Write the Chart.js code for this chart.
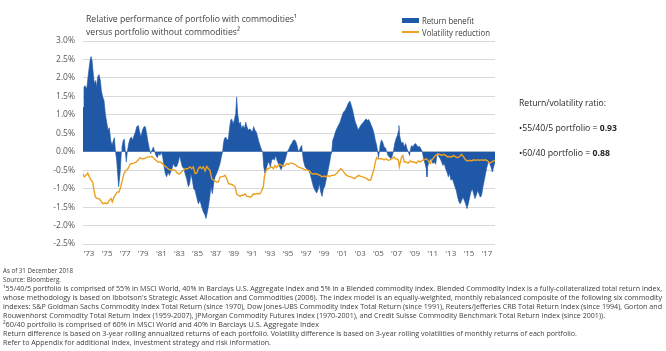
<!DOCTYPE html>
<html>
<head>
<meta charset="utf-8">
<script src="https://cdn.jsdelivr.net/npm/chart.js@4.4.1/dist/chart.umd.min.js"></script>
<style>
body { margin: 0; background: #fff; }
#wrap { position: relative; width: 666px; height: 351px; overflow: hidden; font-family: "Open Sans", sans-serif; color: #404040; }
#chart { position: absolute; left: 0; top: 0; }
.t { position: absolute; white-space: nowrap; line-height: 1; transform-origin: 0 50%; }
.fn { font-size: 7px; left: 3px; }
.panel { font-size: 9.5px; left: 519px; color: #262626; }
.sw { position: absolute; }
</style>
</head>
<body>
<div id="wrap">
  <canvas id="chart" width="666" height="351"></canvas>

  <div class="t" style="left:86px;top:14px;font-size:9.5px" data-w="211">Relative performance of portfolio with commodities¹</div>
  <div class="t" style="left:86px;top:27px;font-size:9.5px" data-w="154">versus portfolio without  commodities²</div>

  <div class="sw" style="left:402px;top:18px;width:17px;height:5px;background:#1f58a6"></div>
  <div class="t" style="left:422px;top:16px;font-size:9px" data-w="52">Return benefit</div>
  <div class="sw" style="left:402px;top:31px;width:17px;height:1.5px;background:#eba120"></div>
  <div class="t" style="left:422px;top:27.5px;font-size:9px" data-w="68">Volatility reduction</div>

  <div class="t panel" style="top:98px" data-w="87">Return/volatility ratio:</div>
  <div class="t panel" style="top:123px" data-w="98">•55/40/5 portfolio = <b>0.93</b></div>
  <div class="t panel" style="top:148px" data-w="91">•60/40 portfolio = <b>0.88</b></div>

  <div class="t fn" style="top:266.5px" data-w="70">As of 31 December 2018</div>
  <div class="t fn" style="top:275.5px" data-w="58">Source: Bloomberg.</div>
  <div class="t fn" style="top:285px" data-w="659">¹55/40/5 portfolio is comprised of 55% in MSCI World, 40% in Barclays U.S. Aggregate Index and 5% in a Blended commodity index. Blended Commodity Index is a fully-collateralized total return index,</div>
  <div class="t fn" style="top:294px" data-w="659">whose methodology is based on Ibbotson's Strategic Asset Allocation and Commodities (2006). The index model is an equally-weighted, monthly rebalanced composite of the following six commodity</div>
  <div class="t fn" style="top:303px" data-w="659">indexes: S&amp;P Goldman Sachs Commodity Index Total Return (since 1970), Dow Jones-UBS Commodity Index Total Return (since 1991), Reuters/Jefferies CRB Total Return Index (since 1994), Gorton and</div>
  <div class="t fn" style="top:312px" data-w="602">Rouwenhorst Commodity Total Return Index (1959-2007), JPMorgan Commodity Futures Index (1970-2001), and Credit Suisse Commodity Benchmark Total Return Index (since 2001)).</div>
  <div class="t fn" style="top:321px" data-w="316">²60/40 portfolio is comprised of 60% in MSCI World and 40% in Barclays U.S. Aggregate Index</div>
  <div class="t fn" style="top:330px" data-w="574">Return difference is based on 3-year rolling annualized returns of each portfolio. Volatility difference is based on 3-year rolling volatilities of monthly returns of each portfolio.</div>
  <div class="t fn" style="top:339px" data-w="268">Refer to Appendix for additional index, investment strategy and risk information.</div>
</div>

<script>
// return benefit (%) - portfolio with commodities minus without
var retYears = [
  1972.34,1972.45,1972.56,1972.75,1972.93,1973.12,1973.23,1973.34,1973.48,1973.59,
  1973.74,1973.85,1973.96,1974.11,1974.26,1974.37,1974.52,1974.66,1974.81,1974.96,
  1975.11,1975.25,1975.40,1975.55,1975.70,1975.81,1975.92,1976.06,1976.17,1976.28,
  1976.36,1976.47,1976.58,1976.65,1976.80,1976.91,1977.02,1977.13,1977.24,1977.39,
  1977.54,1977.69,1977.83,1977.98,1978.13,1978.28,1978.46,1978.61,1978.75,1978.90,
  1979.09,1979.23,1979.38,1979.53,1979.68,1979.82,1979.97,1980.12,1980.27,1980.41,
  1980.56,1980.71,1980.85,1981.00,1981.15,1981.30,1981.44,1981.59,1981.74,1981.89,
  1982.03,1982.18,1982.33,1982.51,1982.70,1982.88,1983.03,1983.18,1983.32,1983.51,
  1983.62,1983.80,1983.99,1984.14,1984.28,1984.43,1984.58,1984.73,1984.91,1985.09,
  1985.28,1985.46,1985.65,1985.83,1985.94,1986.05,1986.20,1986.35,1986.49,1986.64,
  1986.79,1986.94,1987.12,1987.31,1987.49,1987.67,1987.78,1987.86,1987.97,1988.12,
  1988.26,1988.41,1988.56,1988.67,1988.78,1988.93,1989.07,1989.22,1989.33,1989.44,
  1989.59,1989.74,1989.88,1990.03,1990.18,1990.33,1990.47,1990.62,1990.77,1990.92,
  1991.06,1991.21,1991.36,1991.51,1991.65,1991.80,1991.95,1992.10,1992.21,1992.32,
  1992.46,1992.61,1992.76,1992.91,1993.05,1993.20,1993.35,1993.50,1993.64,1993.79,
  1993.94,1994.09,1994.23,1994.38,1994.53,1994.68,1994.82,1994.93,1995.12,1995.27,
  1995.41,1995.60,1995.75,1995.89,1996.04,1996.15,1996.26,1996.41,1996.52,1996.59,
  1996.70,1996.89,1997.07,1997.26,1997.44,1997.63,1997.81,1997.99,1998.18,1998.36,
  1998.47,1998.62,1998.77,1998.92,1999.06,1999.21,1999.36,1999.51,1999.65,1999.76,
  1999.84,1999.95,2000.09,2000.24,2000.39,2000.57,2000.76,2000.94,2001.13,2001.31,
  2001.50,2001.68,2001.86,2002.01,2002.16,2002.31,2002.45,2002.60,2002.75,2002.90,
  2003.04,2003.19,2003.34,2003.49,2003.63,2003.78,2003.93,2004.07,2004.22,2004.37,
  2004.52,2004.66,2004.81,2004.92,2005.00,2005.11,2005.18,2005.33,2005.48,2005.62,
  2005.77,2005.92,2006.06,2006.21,2006.36,2006.51,2006.65,2006.80,2006.95,2007.10,
  2007.24,2007.27,2007.35,2007.46,2007.57,2007.71,2007.86,2008.01,2008.16,2008.30,
  2008.45,2008.56,2008.67,2008.82,2008.97,2009.11,2009.26,2009.41,2009.56,2009.70,
  2009.85,2010.00,2010.15,2010.29,2010.37,2010.44,2010.59,2010.74,2010.88,2011.03,
  2011.18,2011.33,2011.47,2011.55,2011.69,2011.84,2011.99,2012.14,2012.28,2012.43,
  2012.58,2012.73,2012.87,2013.02,2013.17,2013.32,2013.46,2013.61,2013.76,2013.91,
  2014.05,2014.20,2014.35,2014.50,2014.64,2014.79,2014.94,2015.09,2015.23,2015.38,
  2015.53,2015.67,2015.82,2015.97,2016.12,2016.26,2016.41,2016.56,2016.71,2016.85,
  2017.00,2017.15,2017.30,2017.44,2017.59,2017.74,2017.89
];
var retValues = [
  1.20,1.75,1.79,1.70,2.10,2.47,2.58,2.47,2.10,1.84,
  1.93,1.75,2.02,2.09,1.93,1.66,1.48,1.39,1.03,0.80,
  0.58,0.65,0.31,0.17,0.31,0.38,0.04,-0.23,-0.59,-0.95,
  -0.77,-0.50,0.00,0.13,0.31,0.34,0.00,-0.28,0.00,0.22,
  0.35,0.40,0.31,0.44,0.53,0.68,0.71,0.53,0.40,0.58,
  0.68,0.68,0.49,0.26,0.08,-0.05,0.04,0.13,0.00,-0.10,
  -0.16,-0.05,-0.10,0.00,-0.14,-0.41,-0.59,-0.68,-0.55,-0.64,
  -0.55,-0.46,-0.32,-0.41,-0.40,-0.28,-0.10,-0.28,-0.41,-0.46,
  -0.59,-0.73,-0.95,-0.86,-0.59,-0.77,-1.00,-1.05,-1.23,-1.41,
  -1.32,-1.50,-1.63,-1.72,-1.81,-1.68,-1.50,-1.23,-0.95,-1.14,
  -0.86,-0.68,-0.59,-0.46,-0.32,-0.10,0.00,0.22,0.35,0.40,
  0.31,0.35,0.67,0.85,0.89,0.76,0.85,1.03,1.48,1.03,
  0.76,0.80,0.62,0.71,0.62,0.80,0.67,0.58,0.62,0.58,
  0.53,0.68,0.58,0.53,0.40,0.26,0.14,0.04,0.00,-0.41,
  -0.59,-0.46,-0.32,-0.28,-0.41,-0.23,-0.19,-0.23,-0.10,-0.23,
  -0.32,-0.41,-0.49,-0.41,-0.32,-0.23,-0.10,0.00,0.08,0.17,
  0.22,0.31,0.32,0.26,0.14,0.00,0.04,0.13,0.17,0.00,
  -0.23,-0.41,-0.46,-0.50,-0.59,-0.77,-0.95,-1.05,-1.12,-1.00,
  -0.86,-1.09,-1.21,-1.00,-0.95,-0.77,-0.59,-0.41,-0.23,-0.05,
  0.00,0.31,0.40,0.53,0.62,0.71,0.80,0.94,1.07,1.12,
  1.21,1.32,1.37,1.25,1.12,0.94,0.80,0.71,0.59,0.65,
  0.71,0.76,0.80,0.85,0.89,0.85,0.87,0.80,0.71,0.62,
  0.49,0.31,0.17,0.00,-0.16,0.00,0.17,0.32,0.26,0.13,
  0.11,0.00,-0.10,-0.14,-0.19,-0.13,0.00,0.22,0.35,0.44,
  0.58,0.71,0.44,0.31,0.22,0.26,0.13,0.22,0.08,0.00,
  -0.10,0.08,0.17,0.13,0.20,0.22,0.17,0.13,0.14,0.08,
  0.00,-0.19,-0.32,-0.46,-0.68,-0.41,-0.28,-0.19,-0.23,-0.32,
  -0.28,-0.34,-0.10,0.00,-0.14,-0.19,-0.28,-0.37,-0.32,-0.46,
  -0.55,-0.68,-0.59,-0.77,-0.73,-0.84,-0.95,-1.05,-1.23,-1.36,
  -1.41,-1.32,-1.23,-1.32,-1.41,-1.54,-1.41,-1.23,-1.09,-1.00,
  -1.14,-1.27,-1.18,-1.05,-1.14,-1.23,-1.18,-0.95,-0.77,-0.59,
  -0.41,-0.28,-0.32,-0.41,-0.55,-0.41,-0.28
];

// volatility reduction (%)
var volYears = [
  1972.30,1972.49,1972.67,1972.86,1973.04,1973.23,1973.41,1973.56,1973.71,1973.93,
  1974.11,1974.29,1974.52,1974.77,1975.03,1975.25,1975.44,1975.58,1975.77,1975.99,
  1976.14,1976.32,1976.51,1976.69,1976.87,1977.10,1977.32,1977.54,1977.76,1977.98,
  1978.20,1978.42,1978.64,1978.86,1979.09,1979.31,1979.53,1979.75,1979.97,1980.19,
  1980.41,1980.63,1980.85,1981.08,1981.30,1981.52,1981.74,1981.96,1982.25,1982.51,
  1982.77,1982.99,1983.21,1983.43,1983.66,1983.91,1984.17,1984.36,1984.54,1984.73,
  1984.91,1985.09,1985.28,1985.46,1985.65,1985.83,1986.02,1986.20,1986.38,1986.57,
  1986.75,1986.94,1987.12,1987.31,1987.49,1987.67,1987.86,1988.04,1988.23,1988.41,
  1988.60,1988.78,1988.96,1989.15,1989.33,1989.52,1989.70,1989.88,1990.07,1990.25,
  1990.44,1990.62,1990.81,1990.99,1991.17,1991.36,1991.54,1991.73,1991.91,1992.10,
  1992.28,1992.39,1992.54,1992.69,1992.83,1993.02,1993.20,1993.39,1993.57,1993.75,
  1993.94,1994.12,1994.31,1994.49,1994.68,1994.86,1995.04,1995.23,1995.41,1995.78,
  1996.04,1996.34,1996.63,1996.89,1997.15,1997.37,1997.59,1997.81,1998.03,1998.25,
  1998.55,1998.77,1998.99,1999.21,1999.36,1999.58,1999.84,2000.09,2000.39,2000.61,
  2000.83,2001.05,2001.27,2001.50,2001.72,2001.94,2002.16,2002.38,2002.60,2002.82,
  2003.04,2003.26,2003.49,2003.71,2003.93,2004.15,2004.37,2004.52,2004.66,2004.81,
  2004.96,2005.18,2005.40,2005.62,2005.84,2006.06,2006.29,2006.51,2006.73,2006.87,
  2007.02,2007.20,2007.31,2007.42,2007.57,2007.71,2007.86,2008.08,2008.30,2008.53,
  2008.75,2008.97,2009.19,2009.41,2009.63,2009.85,2010.07,2010.29,2010.44,2010.59,
  2010.74,2010.88,2011.03,2011.18,2011.33,2011.55,2011.77,2011.99,2012.21,2012.43,
  2012.65,2012.87,2013.09,2013.32,2013.54,2013.76,2013.98,2014.20,2014.42,2014.64,
  2014.86,2015.09,2015.31,2015.53,2015.75,2015.97,2016.19,2016.41,2016.63,2016.85,
  2017.08,2017.30,2017.52,2017.74,2017.89
];
var volValues = [
  -0.59,-0.68,-0.64,-0.58,-0.68,-0.77,-0.82,-1.05,-1.23,-1.27,
  -1.27,-1.32,-1.41,-1.39,-1.41,-1.32,-1.27,-1.36,-1.23,-1.14,
  -1.09,-1.09,-0.95,-0.77,-0.59,-0.50,-0.46,-0.34,-0.32,-0.31,
  -0.28,-0.23,-0.16,-0.19,-0.19,-0.16,-0.14,-0.14,-0.13,-0.19,
  -0.23,-0.28,-0.28,-0.31,-0.37,-0.41,-0.46,-0.49,-0.49,-0.50,
  -0.58,-0.61,-0.55,-0.50,-0.46,-0.46,-0.41,-0.46,-0.41,-0.59,
  -0.58,-0.46,-0.41,-0.46,-0.41,-0.52,-0.40,-0.46,-0.50,-0.73,
  -0.77,-0.79,-0.82,-0.82,-0.68,-0.68,-0.67,-0.64,-0.73,-0.86,
  -0.88,-0.88,-0.91,-0.95,-1.14,-1.18,-1.21,-1.18,-1.18,-1.14,
  -1.21,-1.21,-1.23,-1.21,-1.14,-1.15,-1.14,-1.14,-1.14,-1.05,
  -0.95,-0.68,-0.55,-0.46,-0.46,-0.43,-0.41,-0.46,-0.37,-0.43,
  -0.37,-0.34,-0.37,-0.40,-0.37,-0.32,-0.34,-0.31,-0.31,-0.34,
  -0.40,-0.43,-0.46,-0.49,-0.50,-0.52,-0.59,-0.61,-0.59,-0.61,
  -0.64,-0.68,-0.66,-0.68,-0.64,-0.67,-0.64,-0.64,-0.59,-0.52,
  -0.46,-0.50,-0.59,-0.64,-0.67,-0.68,-0.70,-0.73,-0.68,-0.64,
  -0.67,-0.68,-0.70,-0.73,-0.77,-0.76,-0.59,-0.46,-0.28,-0.16,
  -0.19,-0.19,-0.19,-0.22,-0.19,-0.23,-0.22,-0.19,-0.14,-0.19,
  -0.19,-0.23,-0.41,-0.28,-0.14,-0.10,-0.28,-0.28,-0.31,-0.25,
  -0.28,-0.28,-0.31,-0.25,-0.28,-0.23,-0.22,-0.19,-0.22,-0.28,
  -0.32,-0.23,-0.19,-0.14,-0.10,-0.07,-0.07,-0.10,-0.07,-0.10,
  -0.14,-0.13,-0.14,-0.10,-0.14,-0.16,-0.13,-0.07,-0.14,-0.22,
  -0.25,-0.23,-0.25,-0.22,-0.23,-0.22,-0.23,-0.22,-0.23,-0.22,
  -0.25,-0.31,-0.28,-0.25,-0.23
];

var tickYears = [1973,1975,1977,1979,1981,1983,1985,1987,1989,1991,1993,1995,1997,1999,2001,2003,2005,2007,2009,2011,2013,2015,2017];
var yTicks = [-2.5,-2.0,-1.5,-1.0,-0.5,0,0.5,1.0,1.5,2.0,2.5,3.0];

var retData = retYears.map(function (x, i) { return { x: x, y: retValues[i] }; });
var volData = volYears.map(function (x, i) { return { x: x, y: volValues[i] }; });

new Chart(document.getElementById('chart').getContext('2d'), {
    type: 'line',
    data: {
        datasets: [{
            label: 'Volatility reduction',
            data: volData,
            borderColor: '#eba120',
            borderWidth: 1.4,
            pointRadius: 0,
            fill: false,
            tension: 0,
            order: 0
        }, {
            label: 'Return benefit',
            data: retData,
            borderColor: '#1f58a6',
            backgroundColor: '#1f58a6',
            borderWidth: 0.6,
            pointRadius: 0,
            fill: 'origin',
            tension: 0,
            order: 1
        }]
    },
    options: {
        responsive: false,
        animation: false,
        devicePixelRatio: 1,
        layout: { padding: { left: 0, right: 171, top: 41, bottom: 0 } },
        plugins: { legend: { display: false }, tooltip: { enabled: false } },
        scales: {
            x: {
                type: 'linear',
                min: 1972.34,
                max: 2017.89,
                grid: { display: false, drawTicks: false },
                border: { display: false },
                afterBuildTicks: function (s) { s.ticks = tickYears.map(function (v) { return { value: v }; }); },
                afterFit: function (s) { s.height = 107; },
                ticks: {
                    autoSkip: false, maxRotation: 0, padding: 5, color: '#595959',
                    font: { family: 'Open Sans', size: 8 },
                    callback: function (v) { return "'" + String(v).slice(2); }
                }
            },
            y: {
                min: -2.5,
                max: 3,
                afterBuildTicks: function (s) { s.ticks = yTicks.map(function (v) { return { value: v }; }); },
                afterFit: function (s) { s.width = 83; },
                grid: { color: '#d9d9d9', lineWidth: 1, drawTicks: false },
                border: { display: false },
                ticks: {
                    padding: 8, color: '#595959',
                    font: { family: 'Open Sans', size: 8.5 },
                    callback: function (v) { return v.toFixed(1) + '%'; }
                }
            }
        }
    }
});

// squeeze each text line to the width it has in the original
function fitText() {
    document.querySelectorAll('[data-w]').forEach(function (el) {
        el.style.transform = 'none';
        var w = el.getBoundingClientRect().width;
        var target = parseFloat(el.getAttribute('data-w'));
        if (w > 0) el.style.transform = 'scaleX(' + (target / w) + ')';
    });
}
document.fonts.ready.then(fitText);
fitText();
</script>
</body>
</html>
